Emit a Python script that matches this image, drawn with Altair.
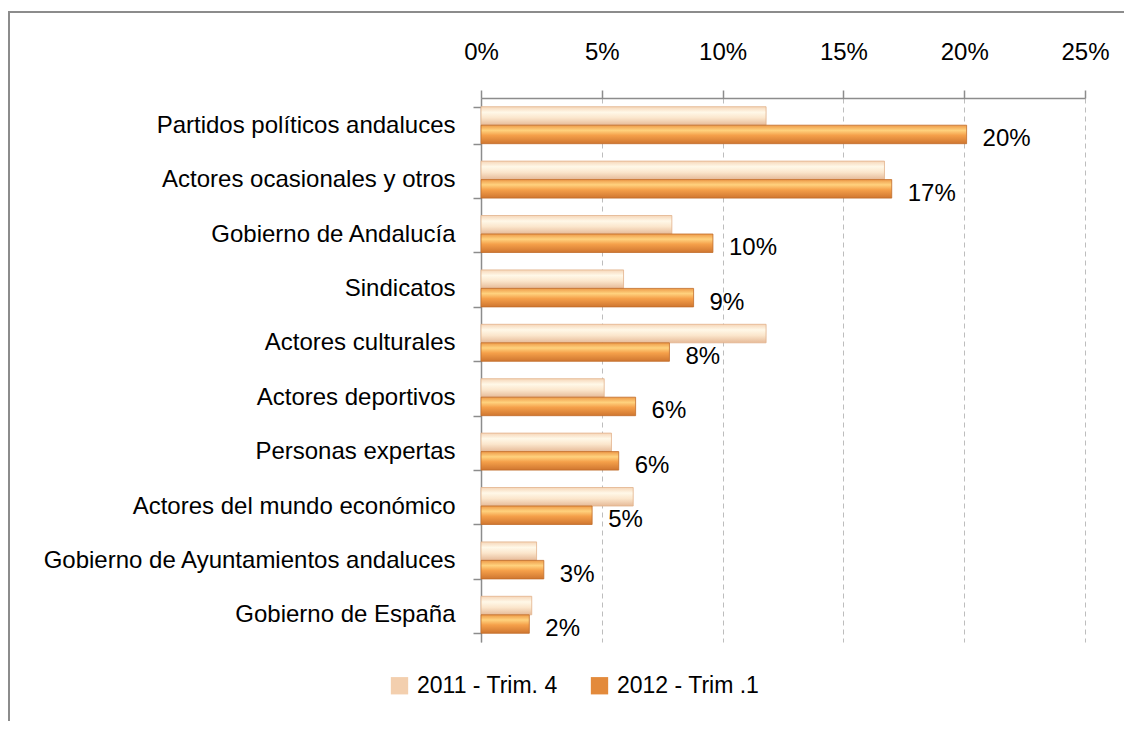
import altair as alt
import pandas as pd

categories = [
    "Partidos políticos andaluces",
    "Actores ocasionales y otros",
    "Gobierno de Andalucía",
    "Sindicatos",
    "Actores culturales",
    "Actores deportivos",
    "Personas expertas",
    "Actores del mundo económico",
    "Gobierno de Ayuntamientos andaluces",
    "Gobierno de España",
]
series_names = ["2011 - Trim. 4", "2012 - Trim .1"]
values_2011 = [11.8, 16.7, 7.9, 5.9, 11.8, 5.1, 5.4, 6.3, 2.3, 2.1]
values_2012 = [20.1, 17.0, 9.6, 8.8, 7.8, 6.4, 5.7, 4.6, 2.6, 2.0]
tick_values = [0, 5, 10, 15, 20, 25]
legend_colors = ["#F3CFAE", "#E38A3B"]

rows = []
for c, v1, v2 in zip(categories, values_2011, values_2012):
    rows.append({"category": c, "series": series_names[0], "value": v1})
    rows.append({"category": c, "series": series_names[1], "value": v2})
df = pd.DataFrame(rows)

FONT = "Liberation Sans"
FS = 24

x_enc = alt.X(
    "value:Q",
    scale=alt.Scale(domain=[0, 25], nice=False),
    axis=alt.Axis(
        orient="top", values=tick_values, labelExpr="datum.value + '%'", title=None,
        grid=True, gridDash=[5, 4], gridColor="#BDBDBD", gridWidth=1,
        domainColor="#8C8C8C", domainWidth=1.5, tickColor="#8C8C8C", tickSize=8,
        tickWidth=1.5, labelPadding=26, labelFontSize=FS, labelFont=FONT,
        labelColor="#000000", labelFlush=False, labelOverlap=False,
    ),
)
y_enc = alt.Y(
    "category:N", sort=categories,
    scale=alt.Scale(paddingInner=0.32, paddingOuter=0.16),
    axis=alt.Axis(
        title=None, tickBand="extent", tickSize=8, tickColor="#8C8C8C", tickWidth=1.5,
        domainColor="#8C8C8C", domainWidth=1.5, labelPadding=18, labelFontSize=FS,
        labelFont=FONT, labelColor="#000000", labelLimit=0, grid=False,
    ),
)
yoff = alt.YOffset("series:N", sort=series_names,
                   scale=alt.Scale(domain=series_names, paddingInner=0.0))

grad_light = alt.LinearGradient(
    gradient="linear", x1=0, x2=0, y1=0, y2=1,
    stops=[
        alt.GradientStop(offset=0, color="#F6D6B8"),
        alt.GradientStop(offset=0.3, color="#FFF8E8"),
        alt.GradientStop(offset=0.6, color="#FBE6CC"),
        alt.GradientStop(offset=1, color="#E6BA98"),
    ],
)
grad_orange = alt.LinearGradient(
    gradient="linear", x1=0, x2=0, y1=0, y2=1,
    stops=[
        alt.GradientStop(offset=0, color="#EE9A48"),
        alt.GradientStop(offset=0.28, color="#FFD27E"),
        alt.GradientStop(offset=0.55, color="#F5A04A"),
        alt.GradientStop(offset=1, color="#CF7630"),
    ],
)

base = alt.Chart(df)

frame = alt.Chart(pd.DataFrame({"a": [0]})).mark_rect(
    fill="transparent", stroke="#8C8C8C", strokeWidth=2
).encode(x=alt.value(-472), x2=alt.value(900), y=alt.value(-86), y2=alt.value(900))

bars_light = base.transform_filter(
    alt.datum.series == series_names[0]
).mark_bar(fill=grad_light, stroke="#E2B28C", strokeWidth=0.8).encode(
    x=x_enc, y=y_enc, yOffset=yoff
)
bars_orange = base.transform_filter(
    alt.datum.series == series_names[1]
).mark_bar(fill=grad_orange, stroke="#C06C28", strokeWidth=0.8).encode(
    x=x_enc, y=y_enc, yOffset=yoff
)
labels = base.transform_filter(
    alt.datum.series == series_names[1]
).transform_calculate(
    label="format(datum.value, '.0f') + '%'"
).mark_text(
    align="left", baseline="middle", dx=16, dy=5, font=FONT, fontSize=FS, color="#000000"
).encode(x=x_enc, y=y_enc, yOffset=yoff, text="label:N")

legend_layer = base.mark_square(opacity=0).encode(
    x=x_enc, y=y_enc,
    color=alt.Color(
        "series:N",
        scale=alt.Scale(domain=series_names, range=legend_colors),
        legend=alt.Legend(
            title=None, orient="none", legendX=-93, legendY=576, direction="horizontal",
            symbolType="square", symbolSize=300, symbolOpacity=1, symbolStrokeWidth=0,
            labelFontSize=FS - 1, labelFont=FONT, labelColor="#000000", columnPadding=30,
            labelOffset=6,
        ),
    ),
)

chart = alt.layer(frame, bars_light, bars_orange, labels, legend_layer).properties(
    width=604, height=544,
    autosize=alt.AutoSizeParams(type="none"),
    padding={"left": 473, "top": 90, "right": 39, "bottom": 79},
    background="white",
).configure_view(stroke=None)

chart.save("out.html", embed_options={"renderer": "svg", "actions": False})
